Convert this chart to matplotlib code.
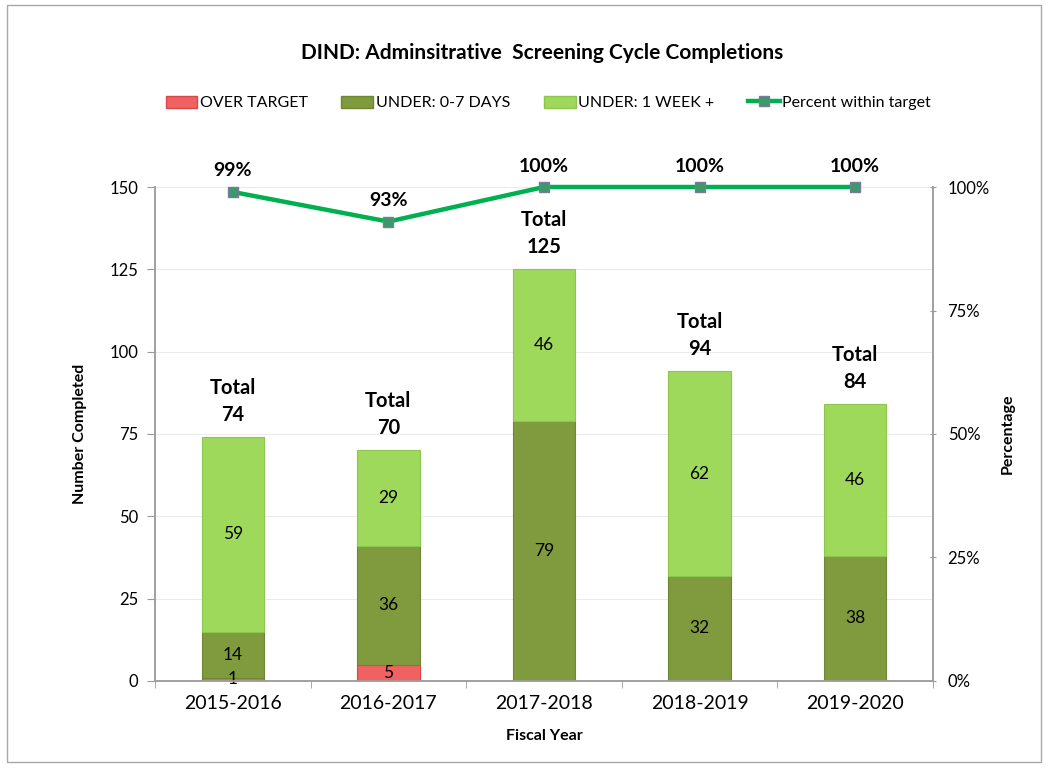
import matplotlib.pyplot as plt
import matplotlib.patches as mpatches
from matplotlib.lines import Line2D
import numpy as np

plt.rcParams['font.family'] = ['Lato', 'DejaVu Sans']

years = ["2015-2016", "2016-2017", "2017-2018", "2018-2019", "2019-2020"]
over_target = [1, 5, 0, 0, 0]
under_0_7 = [14, 36, 79, 32, 38]
under_week = [59, 29, 46, 62, 46]
pct_within = [99, 93, 100, 100, 100]

red = "#f06262"
olive = "#7f9b3e"
light = "#9ed95c"
line_green = "#00b050"

fig = plt.figure(figsize=(10.5, 7.68), dpi=100)
ax = fig.add_axes([0.1476, 0.1133, 0.741, 0.6432])
ax2 = ax.twinx()

x = np.arange(len(years))
w = 0.4
b1 = ax.bar(x, over_target, w, color=red, edgecolor="#d94848", linewidth=0.8, zorder=3)
bottom2 = np.array(over_target)
b2 = ax.bar(x, under_0_7, w, bottom=bottom2, color=olive, edgecolor="#6e8733",
            linewidth=0.8, zorder=3)
bottom3 = bottom2 + np.array(under_0_7)
b3 = ax.bar(x, under_week, w, bottom=bottom3, color=light, edgecolor="#8cc64e",
            linewidth=0.8, zorder=3)

# segment values, hide zeros
for bars, vals in [(b1, over_target), (b2, under_0_7), (b3, under_week)]:
    labels = [str(v) if v else "" for v in vals]
    ax.bar_label(bars, labels=labels, label_type="center", fontsize=12.5, zorder=4)

totals = bottom3 + np.array(under_week)
for xi, t in zip(x, totals):
    ax.annotate("Total\n%d" % t, (xi, t), xytext=(0, 9), textcoords="offset points",
                ha="center", va="bottom", fontsize=14.5, fontweight="bold",
                linespacing=1.45)

ax.set_xlim(-0.5, len(years) - 0.5)
ax.set_ylim(0, 150)
ax.set_yticks(np.arange(0, 151, 25))
ax.set_xticks(x)
ax.set_xticklabels(years, fontsize=14)
ax.set_xticks(np.arange(-0.5, len(years), 1), minor=True)
ax.tick_params(axis="x", which="major", length=0, pad=10)
ax.tick_params(axis="x", which="minor", length=5, color="#999999", direction="out")
ax.tick_params(axis="y", labelsize=12, length=6, color="#999999", pad=6)
ax.grid(axis="y", color="#e2e2e2", linewidth=0.5, zorder=0)
ax.set_axisbelow(True)

ax.set_ylabel("Number Completed", fontsize=11.5, fontweight="bold", labelpad=16)
ax.set_xlabel("Fiscal Year", fontsize=11.5, fontweight="bold", labelpad=12)

ax2.plot(x, pct_within, color=line_green, linewidth=3.2, marker="s", markersize=6.5,
         markerfacecolor="#3a9a6a", markeredgecolor="#7a7a9a", markeredgewidth=1,
         zorder=5, clip_on=False)
for xi, p in zip(x, pct_within):
    ax2.annotate("%d%%" % p, (xi, p), xytext=(0, 9), textcoords="offset points",
                 ha="center", va="bottom", fontsize=14, fontweight="bold")
ax2.set_ylim(0, 100)
ax2.set_yticks([0, 25, 50, 75, 100])
ax2.set_yticklabels(["0%", "25%", "50%", "75%", "100%"])
ax2.tick_params(axis="y", labelsize=12, length=5, color="#999999", direction="inout", pad=8)
ax2.set_ylabel("Percentage", fontsize=11.5, fontweight="bold", labelpad=8)

for a in (ax, ax2):
    a.spines["top"].set_visible(False)
    for s in ("left", "right", "bottom"):
        a.spines[s].set_color("#a0a0a0")
        a.spines[s].set_linewidth(1.2)
ax.set_zorder(ax2.get_zorder() - 1)
ax2.patch.set_visible(False)
ax.patch.set_visible(False)

handles = [
    mpatches.Patch(facecolor=red, edgecolor="#d94848"),
    mpatches.Patch(facecolor=olive, edgecolor="#6e8733"),
    mpatches.Patch(facecolor=light, edgecolor="#8cc64e"),
    Line2D([], [], color=line_green, linewidth=3.2, marker="s", markersize=6.5,
           markerfacecolor="#3a9a6a", markeredgecolor="#7a7a9a"),
]
names = ["OVER TARGET", "UNDER: 0-7 DAYS", "UNDER: 1 WEEK +", "Percent within target"]
fig.legend(handles, names, loc="center", bbox_to_anchor=(0.522, 0.866), ncol=4,
           frameon=False, fontsize=11.5, handlelength=2.0, handleheight=0.8,
           handletextpad=0.15, columnspacing=2.1)

fig.text(0.516, 0.931, "DIND: Adminsitrative  Screening Cycle Completions",
         ha="center", va="center", fontsize=15, fontweight="bold")

fig.patches.append(mpatches.Rectangle((0.007, 0.008), 0.984, 0.985, transform=fig.transFigure,
                                      fill=False, edgecolor="#a8a8a8", linewidth=1))

fig.savefig("out.png", dpi=100)
